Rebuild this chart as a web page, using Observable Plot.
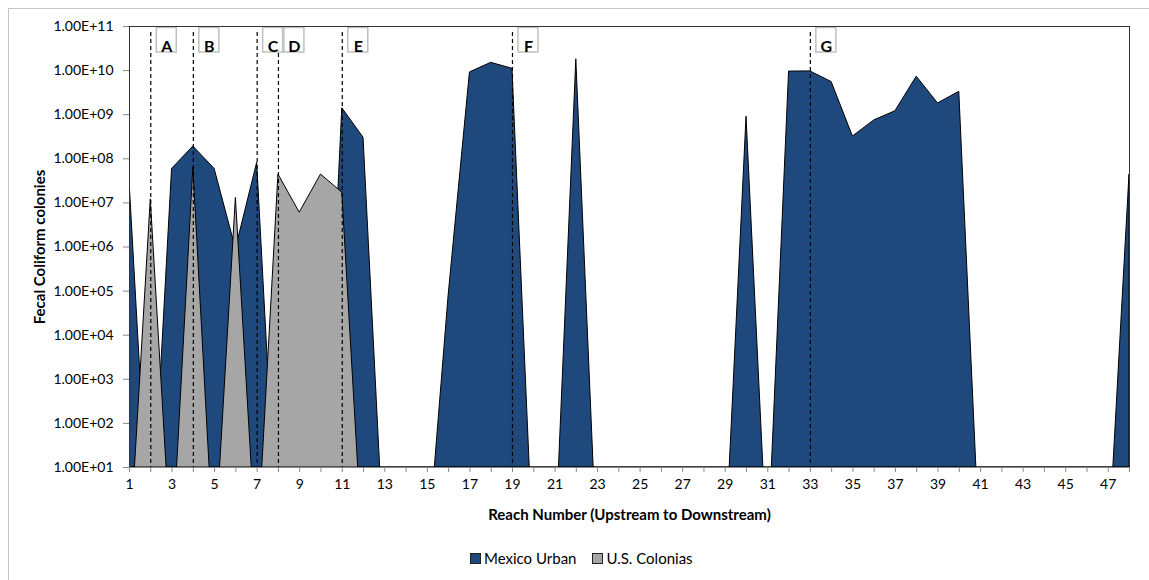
<!DOCTYPE html>
<html>
<head>
<meta charset="utf-8">
<script src="https://cdn.jsdelivr.net/npm/d3@7"></script>
<script src="https://cdn.jsdelivr.net/npm/@observablehq/plot@0.6"></script>
<style>
  body { margin: 0; background: #fff; font-family: Lato, "Open Sans", sans-serif; }
  #wrap { position: relative; width: 1149px; height: 580px; overflow: hidden; background: #fff; }
  #border { position: absolute; left: 8px; top: 8px; width: 1200px; height: 640px; border: 1px solid #c4c4c4; pointer-events: none; }
  #chart { position: absolute; left: 0; top: 0; }
  #legend { position: absolute; left: 470px; top: 549px; display: flex; align-items: center; font-size: 15px; color: #000; }
  .sw { display: inline-block; width: 9px; height: 9px; border: 1px solid #222; margin-right: 3px; }
  .item { display: flex; align-items: center; margin-right: 16px; }
</style>
</head>
<body>
<div id="wrap">
  <div id="chart"></div>
  <div id="legend"></div>
  <div id="border"></div>
</div>
<script>
// ---- data ----
const reaches = [1,2,3,4,5,6,7,8,9,10,11,12,13,14,15,16,17,18,19,20,21,22,23,24,
                 25,26,27,28,29,30,31,32,33,34,35,36,37,38,39,40,41,42,43,44,45,46,47,48];
// 0 = no load (Excel draws such points far below the log axis minimum)
const mexicoUrban = [3.2e7, 0, 5.9e7, 1.9e8, 5.9e7, 9e5, 8.1e7, 0, 0, 0, 1.4e9, 3e8,
                     0, 0, 0, 8e4, 9.1e9, 1.5e10, 1.1e10, 0, 0, 1.8e10, 0, 0,
                     0, 0, 0, 0, 0, 9e8, 0, 9.5e9, 9.6e9, 5.5e9, 3.2e8, 7.4e8,
                     1.2e9, 7.3e9, 1.8e9, 3.3e9, 0, 0, 0, 0, 0, 0, 0, 4.4e7];
const usColonias = [0, 1.2e7, 0, 6.3e7, 0, 1.3e7, 0, 4.4e7, 6e6, 4.4e7, 1.7e7, 0,
                    0, 0, 0, 0, 0, 0, 0, 0, 0, 0, 0, 0,
                    0, 0, 0, 0, 0, 0, 0, 0, 0, 0, 0, 0,
                    0, 0, 0, 0, 0, 0, 0, 0, 0, 0, 0, 0];
const seriesNames = ["Mexico Urban", "U.S. Colonias"];
const seriesColors = ["#1F497D", "#A6A6A6"];
const markerReaches = [2, 4, 7, 8, 11, 19, 33];
const markerLabels = ["A", "B", "C", "D", "E", "F", "G"];
const xTickLabels = [1,3,5,7,9,11,13,15,17,19,21,23,25,27,29,31,33,35,37,39,41,43,45,47];
const yTicks = [1e1,1e2,1e3,1e4,1e5,1e6,1e7,1e8,1e9,1e10,1e11];
const yTitle = "Fecal Coliform colonies";
const xTitle = "Reach Number (Upstream to Downstream)";

// Excel renders zero values on a log axis well below the axis minimum
const ZERO_FLOOR = 0.08;

const rows = reaches.map((r, i) => ({reach: r, mex: mexicoUrban[i], us: usColonias[i]}));
const markers = markerReaches.map((r, i) => ({reach: r, label: markerLabels[i]}));
const fmt = d => "1.00E+" + String(Math.round(Math.log10(d))).padStart(2, "0");

const chart = Plot.plot({
  width: 1149,
  height: 535,
  marginLeft: 129,
  marginRight: 20,
  marginTop: 26,
  marginBottom: 68,
  x: {type: "linear", domain: [1, 48]},
  y: {type: "log", domain: [10, 1e11]},
  style: {fontFamily: "Lato, 'Open Sans', sans-serif", fontSize: "14px", background: "transparent", color: "#000"},
  marks: [
    Plot.areaY(rows, {x: "reach", y1: () => 10, y2: d => Math.max(d.mex, ZERO_FLOOR),
      fill: seriesColors[0], stroke: "#000", strokeWidth: 1, clip: true}),
    Plot.areaY(rows, {x: "reach", y1: () => 10, y2: d => Math.max(d.us, ZERO_FLOOR),
      fill: seriesColors[1], stroke: "#000", strokeWidth: 1, clip: true}),
    Plot.ruleX(markers, {x: "reach", insetTop: 6, stroke: "#000", strokeWidth: 1.2, strokeDasharray: "4,3"}),
    Plot.rect(markers, {x1: "reach", x2: "reach", insetLeft: 6, insetRight: -26, insetTop: 1.5, insetBottom: 415,
      fill: "#fff", stroke: "#c0c0c0", strokeWidth: 1.5}),
    Plot.text(markers, {x: "reach", text: "label", frameAnchor: "top", dx: 16, dy: 14,
      fontWeight: "bold", fontSize: 16}),
    Plot.frame({stroke: "#333"}),
    Plot.ruleY([10], {stroke: "#888"}),
    Plot.ruleX(reaches, {x: d => d, insetTop: 441, insetBottom: -5, stroke: "#888"}),
    Plot.axisX({ticks: xTickLabels, tickSize: 0, tickPadding: 12, fontSize: 14, label: null, tickFormat: d => String(d)}),
    Plot.axisY({ticks: yTicks, tickFormat: fmt, tickSize: 6, tickPadding: 10, stroke: "#888", fontSize: 14, label: null}),
    Plot.text([xTitle], {text: d => d, frameAnchor: "bottom", dy: 52, textAnchor: "middle", fontWeight: "bold", fontSize: 15}),
    Plot.text([yTitle], {text: d => d, frameAnchor: "left", dx: -89, rotate: -90, textAnchor: "middle", fontWeight: "bold", fontSize: 15})
  ]
});
document.getElementById("chart").appendChild(chart);

const legend = document.getElementById("legend");
seriesNames.forEach((name, i) => {
  const item = document.createElement("span");
  item.className = "item";
  const sw = document.createElement("span");
  sw.className = "sw";
  sw.style.background = seriesColors[i];
  const label = document.createElement("span");
  label.textContent = name;
  item.appendChild(sw);
  item.appendChild(label);
  legend.appendChild(item);
});
</script>
</body>
</html>
